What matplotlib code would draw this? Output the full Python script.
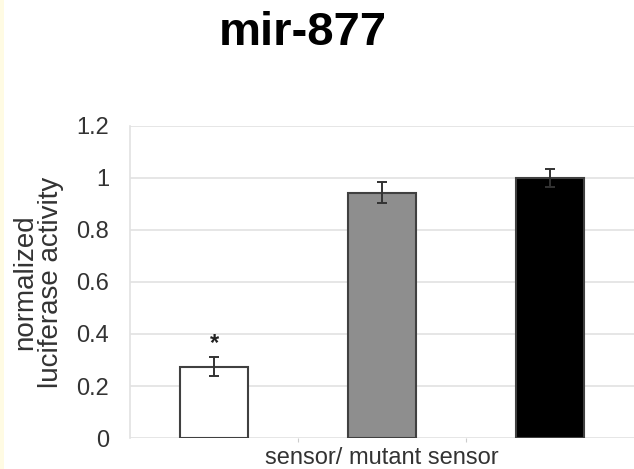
import numpy as np
import matplotlib
matplotlib.use('Agg')
import matplotlib.pyplot as plt
from matplotlib.patches import Rectangle

# data
groups = ['sensor', 'mutant sensor', 'control']
values = [0.275, 0.943, 1.0]
errors = [0.038, 0.04, 0.035]
bar_colors = ['white', '#8e8e8e', 'black']
y_ticks = [0, 0.2, 0.4, 0.6, 0.8, 1.0, 1.2]
y_tick_labels = ['0', '0.2', '0.4', '0.6', '0.8', '1', '1.2']

plt.rcParams['font.family'] = ['Liberation Sans', 'DejaVu Sans']

fig = plt.figure(figsize=(6.34, 4.69), dpi=100)
# faint yellow edge on the left of the scan
fig.patches.append(Rectangle((0, 0), 4 / 634, 1, transform=fig.transFigure,
                             facecolor='#fffbe3', edgecolor='none'))
ax = fig.add_axes([130 / 634, (469 - 438) / 469, 1 - 130 / 634, 312 / 469])

x = np.arange(len(groups))
ax.bar(x, values, width=0.41, color=bar_colors, edgecolor='#404040',
       linewidth=1.5, zorder=3)
ax.errorbar(x, values, yerr=errors, fmt='none', ecolor='#333333',
            elinewidth=1.4, capsize=3.5, capthick=1.4, zorder=4)
ax.text(x[0], values[0] + errors[0] + 0.005, '*', ha='center', va='bottom',
        fontsize=17, fontweight='bold', color='#222222', zorder=5)

ax.set_xlim(-0.5, 2.5)
ax.set_ylim(0, 1.2)
ax.set_yticks(y_ticks)
ax.set_yticklabels(y_tick_labels, fontsize=17, color='#333333')
ax.tick_params(axis='y', length=0, pad=15)
ax.set_xticks([0.5, 1.5])
ax.set_xticklabels([])
ax.tick_params(axis='x', length=3, color='#cccccc', direction='out')
ax.yaxis.grid(True, color='#e2e2e2', linewidth=1.2, zorder=0)
ax.set_axisbelow(True)
for side in ['top', 'right', 'bottom']:
    ax.spines[side].set_visible(False)
ax.spines['left'].set_color('#e2e2e2')
ax.spines['left'].set_linewidth(1.2)

ax.set_ylabel('normalized\nluciferase activity', fontsize=20, color='#333333',
              labelpad=9, linespacing=1.0)
ax.set_xlabel('sensor/ mutant sensor', fontsize=17, color='#333333',
              labelpad=0)

fig.text(303 / 634, 1 - 33 / 469, 'mir-877', ha='center', va='center',
         fontsize=34, fontweight='bold')

fig.savefig('out.png', dpi=100)
